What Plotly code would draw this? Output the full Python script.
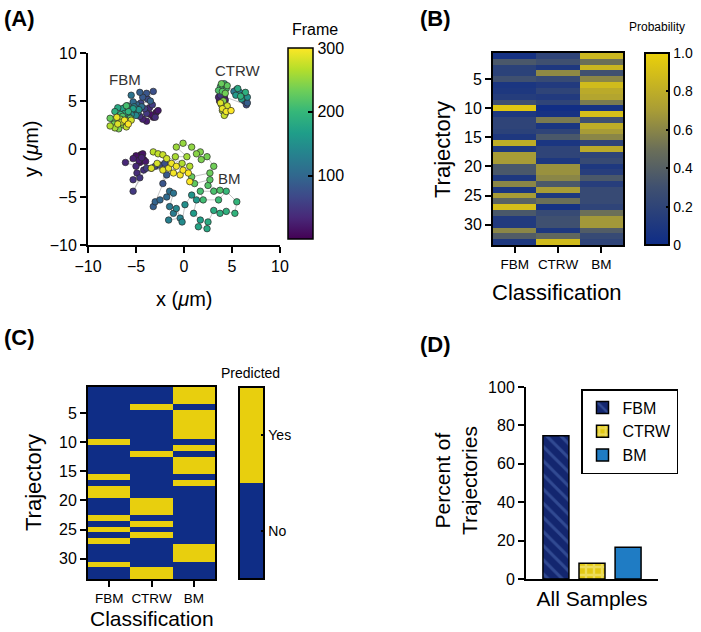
import plotly.graph_objects as go

W, H = 701, 632
FONT = "Liberation Sans, Arial, Helvetica, sans-serif"

def fx(p):
    return p / W

def fy(p):
    return 1 - p / H

# ---------------- Panel A: trajectories (frame, x, y) ----------------
fbm_frame = [5, 10, 15, 20, 25, 30, 35, 40, 45, 50, 55, 60,
             65, 70, 75, 80, 85, 90, 95, 100, 105, 110, 115, 120,
             125, 130, 135, 140, 145, 150, 155, 160, 165, 170,
             175, 180, 185, 190, 195, 200, 205, 210, 215, 220,
             225, 230, 235, 240, 245, 250, 255, 260, 265, 270, 275, 280, 285, 290, 295, 300]
fbm_x = [-3.2, -2.9, -3.5, -2.7, -3.9, -4.3, -3.6, -3.0, -4.6, -3.9, -3.3, -4.1,
         -4.5, -3.8, -3.2, -3.9, -4.3, -4.6, -3.5, -4.9, -5.3, -4.4, -5.5, -5.0,
         -4.8, -5.2, -5.6, -5.0, -5.9, -5.5, -4.7, -6.2, -5.8, -5.3,
         -6.4, -6.9, -6.2, -7.2, -5.8, -6.6, -7.0, -6.0, -6.4, -5.6,
         -7.3, -7.7, -7.3, -6.8, -6.3, -5.9, -6.6, -7.2, -7.7, -6.5, -6.0, -5.5, -6.9, -7.0, -6.2, -5.8]
fbm_y = [3.3, 3.8, 3.6, 4.0, 2.9, 3.1, 4.3, 3.3, 3.4, 3.7, 4.6, 4.2,
         4.8, 5.2, 6.0, 5.8, 5.4, 5.9, 5.0, 4.6, 4.9, 4.4, 5.6, 4.2,
         3.8, 4.4, 4.0, 3.5, 4.5, 3.6, 4.1, 4.3, 3.4, 4.2,
         4.2, 4.3, 3.7, 3.9, 3.9, 3.6, 3.3, 4.5, 3.4, 3.2,
         3.0, 3.2, 2.6, 2.1, 2.5, 2.9, 3.1, 2.2, 2.4, 2.8, 2.3, 3.0, 2.6, 3.3, 3.0, 2.6]

ctrw_frame = [5, 10, 15, 20, 25, 30, 40, 50,
              70, 80, 90, 100,
              110, 120, 130, 140, 150, 160, 170, 180, 190, 195,
              200, 205, 210, 215, 220, 225, 230, 235,
              245, 250, 255, 260, 265, 270, 275, 280, 285, 290, 295, 300]
ctrw_x = [4.0, 3.7, 4.2, 3.9, 4.3, 3.6, 4.1, 3.8,
          6.5, 6.3, 6.6, 6.1,
          5.5, 5.2, 5.8, 6.2, 6.6, 5.4, 6.0, 5.6, 6.4, 5.9,
          4.2, 3.8, 4.4, 3.6, 4.0, 4.5, 3.9, 4.3,
          4.1, 3.9, 4.3, 4.6, 4.0, 4.3, 4.2, 4.5, 3.8, 4.0, 4.4, 4.9]
ctrw_y = [5.3, 5.0, 5.5, 4.8, 5.1, 5.4, 4.9, 5.6,
          4.6, 5.0, 4.8, 5.3,
          6.2, 6.0, 5.9, 5.6, 5.4, 5.6, 5.2, 6.3, 5.9, 5.5,
          6.8, 6.5, 6.3, 6.1, 6.0, 6.6, 6.8, 5.8,
          5.0, 4.6, 4.3, 4.1, 4.0, 3.7, 3.5, 4.5, 4.8, 4.2, 3.9, 4.0]

bm_frame = [3, 6, 9, 12, 15, 18, 21, 24, 27, 30, 33, 36, 39, 42, 45, 48, 51,
            55, 60, 65, 70, 75, 80, 85, 90, 95, 100, 105, 110, 115, 120, 125, 130,
            135, 140, 145, 150, 155, 160, 165, 170, 175, 180, 183, 186, 189, 192,
            195, 198, 201, 204, 207, 210, 213, 216, 219, 222, 225, 228, 231, 234,
            237, 240, 243, 246, 249, 252, 255, 258, 261, 264, 267, 270, 273, 276,
            279, 282, 285, 288, 291, 293, 295, 296, 297, 298, 299, 300]
bm_x = [-4.5, -4.8, -4.2, -4.6, -5.0, -4.3, -4.0, -4.7, -5.3, -4.4, -6.1, -5.0, -4.9, -4.2, -5.3, -4.6, -5.3,
        -3.9, -3.4, -3.0, -2.5, -2.0, -2.2, -1.8, -3.2, -3.0, -2.5, -1.8, -1.5, -1.1, -1.5, -1.1, -1.6,
        -0.4, -0.8, -0.2, 0.1, 0.8, 1.3, 1.0, 1.7, 1.5, 2.4, 2.5, 3.1, 3.75, 4.4,
        5.3, 5.5, 4.4, 3.6, 2.0, 1.7, 3.1, 3.75, 2.5, 2.7, 1.1, 0.8, 2.7, 3.1,
        2.4, 1.8, 1.7, 1.3, 0.8, -0.1, -0.8, 0.3, -0.9, -0.2, 0.6, -3.2, -2.7, -2.2,
        -1.8, -2.8, -3.4, -2.2, -1.6, -1.3, -0.8, -1.1, -0.4, -0.1, 0.45, 0.6]
bm_y = [-0.6, -0.9, -1.1, -1.4, -0.7, -0.5, -1.3, -1.2, -1.0, -0.9, -1.4, -1.8, -2.5, -2.2, -3.2, -3.0, -4.4,
        -2.0, -2.0, -1.8, -1.7, -1.5, -3.6, -2.7, -6.0, -5.5, -5.3, -5.0, -4.4, -4.6, -6.0, -6.7, -7.4,
        -7.2, -6.2, -7.6, -5.8, -4.8, -5.3, -6.7, -7.4, -8.1, -8.3, -7.6, -6.4, -6.7, -6.5,
        -6.7, -5.5, -4.4, -5.3, -5.3, -4.4, -4.4, -4.3, -3.8, -3.2, -3.6, -2.9, -2.5, -1.8,
        -0.8, -1.1, -0.3, -0.5, 0.2, 0.6, 0.2, -0.8, -0.8, -1.5, -1.8, -0.3, -0.5, -0.6,
        -1.0, -1.5, -2.0, -2.2, -2.0, -1.5, -1.8, -2.5, -2.7, -2.2, -2.5, -3.4]

traj_labels = ["FBM", "CTRW", "BM"]
traj_label_x = [-6.1, 5.6, 4.7]
traj_label_y = [7.2, 8.2, -3.1]

# ---------------- Panel B: probabilities ----------------
classes = ["FBM", "CTRW", "BM"]
trajectory = list(range(1, 34))
prob_fbm = [0.05, 0.35, 0.18, 0.18, 0.30, 0.08, 0.10, 0.14, 0.30, 0.95,
            0.10, 0.20, 0.20, 0.18, 0.10, 0.80, 0.10, 0.70, 0.70, 0.35,
            0.35, 0.10, 0.60, 0.08, 0.70, 0.42, 0.90, 0.35, 0.12, 0.12,
            0.60, 0.38, 0.10]
prob_ctrw = [0.20, 0.30, 0.10, 0.62, 0.25, 0.12, 0.20, 0.12, 0.20, 0.02,
             0.05, 0.55, 0.08, 0.20, 0.35, 0.08, 0.20, 0.20, 0.10, 0.65,
             0.65, 0.60, 0.35, 0.70, 0.10, 0.50, 0.05, 0.25, 0.30, 0.30,
             0.10, 0.45, 0.88]
prob_bm = [0.85, 0.50, 0.85, 0.30, 0.60, 0.88, 0.78, 0.75, 0.55, 0.05,
           0.90, 0.30, 0.80, 0.70, 0.60, 0.20, 0.78, 0.20, 0.25, 0.10,
           0.15, 0.35, 0.15, 0.25, 0.25, 0.25, 0.20, 0.50, 0.68, 0.68,
           0.38, 0.25, 0.20]

# ---------------- Panel C: predicted class ----------------
predicted = ["BM", "BM", "BM", "CTRW", "BM", "BM", "BM", "BM", "BM", "FBM",
             "BM", "CTRW", "BM", "BM", "BM", "FBM", "BM", "FBM", "FBM", "CTRW",
             "CTRW", "CTRW", "FBM", "CTRW", "FBM", "CTRW", "FBM", "BM", "BM", "BM",
             "FBM", "CTRW", "CTRW"]

# ---------------- Panel D: percentages ----------------
group = ["All Samples"]
pct_fbm = [74.6]
pct_ctrw = [8.2]
pct_bm = [16.5]

BLUE = "#0f2d86"
YELLOW = "#e8cf0e"

fig = go.Figure()

# Panel A traces
for fr, xs, ys in [(fbm_frame, fbm_x, fbm_y), (ctrw_frame, ctrw_x, ctrw_y), (bm_frame, bm_x, bm_y)]:
    fig.add_trace(go.Scatter(
        x=xs, y=ys, mode="lines+markers", xaxis="x", yaxis="y",
        line=dict(color="#b5b5b5", width=0.8),
        marker=dict(size=6.5, color=fr, coloraxis="coloraxis",
                    line=dict(color="#2a2a2a", width=0.7)),
        showlegend=False, hoverinfo="skip"))

# Panel B heatmap
zb = [[prob_fbm[i], prob_ctrw[i], prob_bm[i]] for i in range(len(trajectory))]
fig.add_trace(go.Heatmap(z=zb, x=classes, y=trajectory, xaxis="x2", yaxis="y2",
                         coloraxis="coloraxis2", showlegend=False))

# Panel C heatmap
zc = [[1 if p == c else 0 for c in classes] for p in predicted]
fig.add_trace(go.Heatmap(z=zc, x=classes, y=trajectory, xaxis="x3", yaxis="y3",
                         coloraxis="coloraxis3", showlegend=False))

# Panel D bars
fig.add_trace(go.Bar(x=group, y=pct_fbm, name="FBM", xaxis="x4", yaxis="y4",
                     marker=dict(color="#13266f", line=dict(color="black", width=1.5),
                                 pattern=dict(shape="\\", fgcolor="#4f6db5", bgcolor="#13266f",
                                              size=10, solidity=0.3))))
fig.add_trace(go.Bar(x=group, y=pct_ctrw, name="CTRW", xaxis="x4", yaxis="y4",
                     marker=dict(color="#e2c813", line=dict(color="black", width=1.5),
                                 pattern=dict(shape="+", fgcolor="#f8f0a2", bgcolor="#e2c813",
                                              size=8, solidity=0.5))))
fig.add_trace(go.Bar(x=group, y=pct_bm, name="BM", xaxis="x4", yaxis="y4",
                     marker=dict(color="#1f7cc4", line=dict(color="black", width=1.5))))

axis_common = dict(showline=True, linewidth=2, linecolor="black", showgrid=False,
                   zeroline=False, ticks="outside", ticklen=6, tickwidth=2, tickcolor="black")

bscale = [[0, "#0e2c87"], [0.3, "#3f5070"], [0.5, "#6b6f58"], [0.7, "#a89c36"], [1, "#ebd00a"]]

fig.update_layout(
    width=W, height=H, margin=dict(l=0, r=0, t=0, b=0, autoexpand=False),
    paper_bgcolor="white", plot_bgcolor="white",
    font=dict(family=FONT, color="black"),
    barmode="group", bargap=0.18, bargroupgap=0.28,
    xaxis=dict(domain=[fx(88), fx(280)], anchor="y", range=[-10, 10],
               tickvals=[-10, -5, 0, 5, 10], tickfont=dict(size=16), **axis_common),
    yaxis=dict(domain=[fy(245), fy(53)], anchor="x", range=[-10, 10],
               tickvals=[-10, -5, 0, 5, 10], tickfont=dict(size=16), **axis_common),
    xaxis2=dict(domain=[fx(493), fx(623)], anchor="y2", mirror=True, tickangle=0,
                tickfont=dict(size=13.5), **axis_common),
    yaxis2=dict(domain=[fy(245), fy(53)], anchor="x2", range=[33.5, 0.5], mirror=True,
                tickvals=[5, 10, 15, 20, 25, 30], tickfont=dict(size=16), **axis_common),
    xaxis3=dict(domain=[fx(88), fx(215)], anchor="y3", mirror=True, tickangle=0,
                tickfont=dict(size=13.5), **axis_common),
    yaxis3=dict(domain=[fy(579), fy(387)], anchor="x3", range=[33.5, 0.5], mirror=True,
                tickvals=[5, 10, 15, 20, 25, 30], tickfont=dict(size=16), **axis_common),
    xaxis4=dict(domain=[fx(526), fx(658)], anchor="y4", showline=True, linewidth=2,
                linecolor="black", showgrid=False, zeroline=False, ticks="",
                tickfont=dict(size=21)),
    yaxis4=dict(domain=[fy(579), fy(387)], anchor="x4", range=[0, 100],
                tickvals=[0, 20, 40, 60, 80, 100], tickfont=dict(size=16), **axis_common),
    coloraxis=dict(colorscale="Viridis", cmin=1, cmax=300,
                   colorbar=dict(x=fx(288), xanchor="left", xpad=0, ypad=0,
                                 y=fy(239), yanchor="bottom", lenmode="pixels", len=191,
                                 thicknessmode="pixels", thickness=25,
                                 outlinewidth=1.5, outlinecolor="black",
                                 tickvals=[100, 200, 300], ticks="inside", ticklen=5,
                                 tickwidth=1.5, tickcolor="black",
                                 tickfont=dict(size=16))),
    coloraxis2=dict(colorscale=bscale, cmin=0, cmax=1,
                    colorbar=dict(x=fx(645), xanchor="left", xpad=0, ypad=0,
                                  y=fy(245), yanchor="bottom", lenmode="pixels", len=192,
                                  thicknessmode="pixels", thickness=24,
                                  outlinewidth=2, outlinecolor="black",
                                  tickvals=[0, 0.2, 0.4, 0.6, 0.8, 1.0],
                                  ticktext=["0", "0.2", "0.4", "0.6", "0.8", "1.0"],
                                  ticks="inside", ticklen=4, tickwidth=1.5, tickcolor="black",
                                  tickfont=dict(size=14))),
    coloraxis3=dict(colorscale=[[0, BLUE], [0.5, BLUE], [0.5, YELLOW], [1, YELLOW]],
                    cmin=0, cmax=1,
                    colorbar=dict(x=fx(239), xanchor="left", xpad=0, ypad=0,
                                  y=fy(579), yanchor="bottom", lenmode="pixels", len=192,
                                  thicknessmode="pixels", thickness=25,
                                  outlinewidth=2, outlinecolor="black",
                                  tickvals=[0.25, 0.75], ticktext=["No", "Yes"],
                                  ticks="inside", ticklen=4, tickwidth=1.5, tickcolor="black",
                                  tickfont=dict(size=14))),
    legend=dict(x=fx(581), y=fy(389), xanchor="left", yanchor="top",
                bordercolor="black", borderwidth=1.5, bgcolor="white",
                font=dict(size=16), tracegroupgap=0),
)

ann = []
def A(x, y, text, size, xanchor="center", yanchor="middle", **kw):
    d = dict(x=fx(x), y=fy(y), xref="paper", yref="paper", text=text, showarrow=False,
             xanchor=xanchor, yanchor=yanchor,
             font=dict(size=size, family=FONT, color="black"))
    d.update(kw)
    ann.append(d)

# panel labels
A(2, 4, "<b>(A)</b>", 22, xanchor="left", yanchor="top")
A(418, 4, "<b>(B)</b>", 22, xanchor="left", yanchor="top")
A(2, 323, "<b>(C)</b>", 22, xanchor="left", yanchor="top")
A(418, 330, "<b>(D)</b>", 22, xanchor="left", yanchor="top")

# axis titles
A(31, 149, "y (<i>μ</i>m)", 20, textangle=-90)
A(184, 299, "x (<i>μ</i>m)", 20)
A(443, 150, "Trajectory", 22, textangle=-90)
A(557, 292, "Classification", 22)
A(33, 483, "Trajectory", 22, textangle=-90)
A(152, 618, "Classification", 21)
A(456, 481, "Percent of<br>Trajectories", 21, textangle=-90)

# colorbar titles
A(290, 29, "Frame", 16, xanchor="left")
A(657, 27, "Probability", 12)
A(251, 373, "Predicted", 14)

fig.update_layout(annotations=ann)

# trajectory labels in data coordinates
for t, lx, ly in zip(traj_labels, traj_label_x, traj_label_y):
    fig.add_annotation(x=lx, y=ly, xref="x", yref="y", text=t, showarrow=False,
                       xanchor="center", yanchor="middle",
                       font=dict(size=15, family=FONT, color="#333333"))

fig.write_html("out.html", config={"displayModeBar": False},
               post_script="document.body.style.margin='0px';")
